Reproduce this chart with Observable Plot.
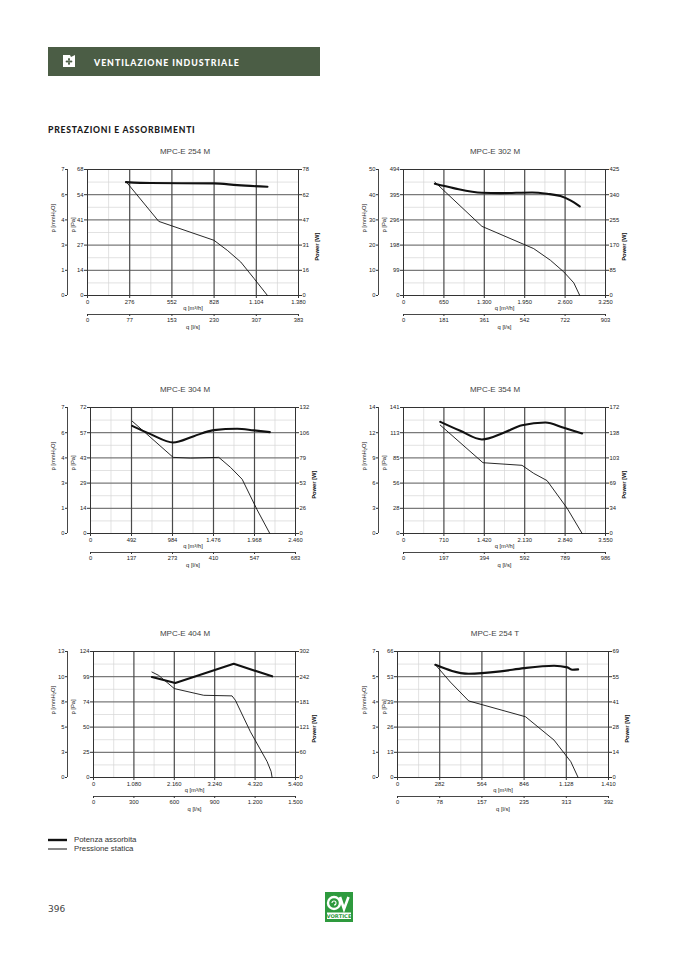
<!DOCTYPE html>
<html><head><meta charset="utf-8">
<script src="https://cdn.jsdelivr.net/npm/d3@7"></script>
<script src="https://cdn.jsdelivr.net/npm/@observablehq/plot@0.6"></script>
<style>
html,body{margin:0;padding:0;background:#fff;}
body{width:677px;height:958px;position:relative;overflow:hidden;font-family:"Liberation Sans",Arial,sans-serif;}
.abs{position:absolute;}
.band{left:48px;top:47px;width:272px;height:29px;background:#4b5d45;}
.band-t{left:94px;top:57px;color:#fff;font-family:Lato,"Open Sans",sans-serif;font-weight:900;font-size:8.8px;letter-spacing:0.95px;}
.sec{left:48px;top:125px;color:#1a1a1a;font-family:Lato,"Open Sans",sans-serif;font-weight:900;font-size:8.6px;letter-spacing:0.75px;}
.ttl{font-size:8px;color:#444;text-align:center;width:290px;}
.leg{font-size:7.8px;color:#333;}
.pg{left:48px;top:904px;font-size:9px;color:#444;font-family:"DejaVu Sans",sans-serif;}
</style></head><body>
<div class="abs band"></div>
<svg class="abs" style="left:62px;top:54px" width="15" height="14" viewBox="0 0 15 14">
  <path d="M1 1 L8 1 L9 3 L13 1 L13 13 L1 13 Z" fill="#fff"/>
  <g fill="#4b5d45" transform="translate(7,7.5)">
    <circle r="0.9"/><ellipse cx="0" cy="-2" rx="1" ry="1.4"/><ellipse cx="0" cy="2" rx="1" ry="1.4"/>
    <ellipse cx="-2" cy="0" rx="1.4" ry="1"/><ellipse cx="2" cy="0" rx="1.4" ry="1"/>
  </g>
</svg>
<div class="abs band-t">VENTILAZIONE INDUSTRIALE</div>
<div class="abs sec">PRESTAZIONI E ASSORBIMENTI</div>
<div id="charts"></div>
<svg class="abs" style="left:46px;top:834px" width="24" height="20">
  <line x1="2" x2="21" y1="6" y2="6" stroke="#111" stroke-width="2.4"/>
  <line x1="2" x2="21" y1="15" y2="15" stroke="#111" stroke-width="1"/>
</svg>
<div class="abs leg" style="left:74px;top:835px">Potenza assorbita</div>
<div class="abs leg" style="left:74px;top:844px">Pressione statica</div>
<div class="abs pg">396</div>
<svg class="abs" style="left:325px;top:892px" width="28" height="30" viewBox="0 0 28 30">
  <rect width="28" height="30" fill="#2e9a3e"/>
  <circle cx="9" cy="11" r="6" fill="none" stroke="#fff" stroke-width="2.4"/>
  <path d="M9 11 m-2 0 a2 2 0 1 1 2 2" fill="none" stroke="#fff" stroke-width="1.1"/>
  <path d="M15 5 L19 17 L23.5 5" fill="none" stroke="#fff" stroke-width="2.6"/>
  <rect x="2" y="20.5" width="24" height="6.5" fill="#fff"/>
  <text x="14" y="25.8" font-size="5.2" text-anchor="middle" font-family="DejaVu Sans" font-weight="bold" fill="#2e9a3e">VORTICE</text>
</svg>
<script>
// ---------- DATA ----------
const titles = ["MPC-E 254 M","MPC-E 302 M","MPC-E 304 M","MPC-E 354 M","MPC-E 404 M","MPC-E 254 T"];

// chart 1 - MPC-E 254 M
const c1_q = [0,276,552,828,1104,1380];
const c1_ls = ["0","77","153","230","307","383"];
const c1_mm = ["0","1","3","4","6","7"];
const c1_pa = [0,14,27,41,54,68];
const c1_w = [0,16,31,47,62,78];
const c1_powQ = [252,411,827,980,1177];
const c1_powW = [70.2,69.6,69.4,68.3,67.3];
const c1_preQ = [252,466,827,914,1002,1089,1177];
const c1_prePa = [61.5,40.0,29.8,24.4,18.1,9.2,0];

// chart 2 - MPC-E 302 M
const c2_q = [0,650,1300,1950,2600,3250];
const c2_ls = ["0","181","361","542","722","903"];
const c2_mm = ["0","10","20","30","40","50"];
const c2_pa = [0,99,198,296,395,494];
const c2_w = [0,85,170,255,340,425];
const c2_powQ = [505,806,1262,1558,2068,2310,2525,2686,2836];
const c2_powW = [376.8,362.2,346.5,345.4,347.6,343.1,335.3,320.7,300.5];
const c2_preQ = [505,1262,1934,2095,2364,2579,2740,2836];
const c2_prePa = [444.5,271.1,200.7,183.8,138.2,92.5,49.5,0];

// chart 3 - MPC-E 304 M
const c3_q = [0,492,984,1476,1968,2460];
const c3_ls = ["0","137","273","410","547","683"];
const c3_mm = ["0","1","3","4","6","7"];
const c3_pa = [0,14,29,43,57,72];
const c3_w = [0,26,53,79,106,132];
const c3_powQ = [500,720,992,1240,1480,1760,1960,2152];
const c3_powW = [112.8,104.1,95.4,102.0,108.3,109.7,108.0,106.2];
const c3_preQ = [500,992,1200,1540,1680,1820,2000,2152];
const c3_prePa = [64.2,43.5,43.1,43.5,37.8,31.0,13.5,0];

// chart 4 - MPC-E 354 M
const c4_q = [0,710,1420,2130,2840,3550];
const c4_ls = ["0","197","394","592","789","986"];
const c4_mm = ["0","3","6","9","12","14"];
const c4_pa = [0,28,56,85,113,141];
const c4_w = [0,34,69,103,138,172];
const c4_powQ = [646,998,1379,1760,2083,2494,2817,3139];
const c4_powW = [152.5,140.2,128.4,137.5,147.9,151.6,144.3,136.6];
const c4_preQ = [646,1397,2083,2288,2523,2875,3139];
const c4_prePa = [121.3,79.2,76.3,67.3,59.2,28.3,0];

// chart 5 - MPC-E 404 M
const c5_q = [0,1080,2160,3240,4320,5400];
const c5_ls = ["0","300","600","900","1.200","1.500"];
const c5_mm = ["0","3","5","8","10","13"];
const c5_pa = [0,25,50,74,99,124];
const c5_w = [0,60,121,181,242,302];
const c5_powQ = [1562,2187,3749,4775];
const c5_powW = [240.8,226.5,272.6,242.4];
const c5_preQ = [1562,1741,2160,2946,3704,3793,4195,4641,4748,4775];
const c5_prePa = [103.8,100.5,87.5,80.9,80.3,76.0,45.0,15.7,5.9,0];

// chart 6 - MPC-E 254 T
const c6_q = [0,282,564,846,1128,1410];
const c6_ls = ["0","78","157","235","313","392"];
const c6_mm = ["0","1","3","4","5","7"];
const c6_pa = [0,13,26,39,53,66];
const c6_w = [0,14,28,41,55,69];
const c6_powQ = [253,476,688,845,1046,1135,1169,1207];
const c6_powW = [61.7,56.8,58.1,59.9,61.2,60.3,59.0,59.2];
const c6_preQ = [253,353,476,856,1046,1158,1207];
const c6_prePa = [59.1,50.0,40.1,31.8,19.6,8.3,0];

// ---------- LAYOUT ----------
const charts = [
  {q:c1_q, ls:c1_ls, mm:c1_mm, pa:c1_pa, w:c1_w, powQ:c1_powQ, powW:c1_powW, preQ:c1_preQ, prePa:c1_prePa},
  {q:c2_q, ls:c2_ls, mm:c2_mm, pa:c2_pa, w:c2_w, powQ:c2_powQ, powW:c2_powW, preQ:c2_preQ, prePa:c2_prePa},
  {q:c3_q, ls:c3_ls, mm:c3_mm, pa:c3_pa, w:c3_w, powQ:c3_powQ, powW:c3_powW, preQ:c3_preQ, prePa:c3_prePa},
  {q:c4_q, ls:c4_ls, mm:c4_mm, pa:c4_pa, w:c4_w, powQ:c4_powQ, powW:c4_powW, preQ:c4_preQ, prePa:c4_prePa},
  {q:c5_q, ls:c5_ls, mm:c5_mm, pa:c5_pa, w:c5_w, powQ:c5_powQ, powW:c5_powW, preQ:c5_preQ, prePa:c5_prePa},
  {q:c6_q, ls:c6_ls, mm:c6_mm, pa:c6_pa, w:c6_w, powQ:c6_powQ, powW:c6_powW, preQ:c6_preQ, prePa:c6_prePa}
];
const marginsL = [47,53,50,53,53,47];
const marginsR = [32,35,35,35,35,32];
const powerCurve = ["monotone-x","monotone-x","monotone-x","monotone-x","linear","monotone-x"];
const rowPlotTop = [169,407,651];
const colLeft = [40,350];
const mmLineX = [67,378];

const fmtIt = d3.formatLocale({decimal:",", thousands:".", grouping:[3], currency:["€",""]}).format(",d");
const host = document.getElementById("charts");

charts.forEach((c, k) => {
  const col = k % 2, row = Math.floor(k / 2);
  const svgLeft = colLeft[col];
  const mL = marginsL[k], mR = marginsR[k];
  const mT = 9, mB = 40, W = 290, H = 175;
  const plotLeft = svgLeft + mL;
  const qMax = c.q[5], paMax = c.pa[5], wMax = c.w[5];
  const yPos = d3.range(6).map(i => paMax * i / 5);
  const yMinor = d3.range(5).map(i => paMax * (i + 0.5) / 5);
  const xMinor = d3.range(5).map(i => qMax * (i + 0.5) / 5);
  const yi = d => Math.round(d / paMax * 5);
  const xi = d => Math.round(d / qMax * 5);
  const power = c.powQ.map((q, i) => ({q, y: c.powW[i] / wMax * paMax}));
  const press = c.preQ.map((q, i) => ({q, y: c.prePa[i]}));
  const dxmm = mmLineX[col] - plotLeft;

  const svg = Plot.plot({
    width: W, height: H,
    marginLeft: mL, marginRight: mR, marginTop: mT, marginBottom: mB,
    x: {domain: [0, qMax]},
    y: {domain: [0, paMax]},
    style: {fontSize: "5.8px", fontFamily: "'Liberation Sans', Arial, sans-serif", color: "#222", background: "transparent", overflow: "visible"},
    marks: [
      Plot.ruleX(xMinor, {stroke: "#d6d6d6", strokeWidth: 0.7}),
      Plot.ruleY(yMinor, {stroke: "#d6d6d6", strokeWidth: 0.7}),
      Plot.ruleY(yPos.slice(1, 5), {stroke: "#7a7a7a", strokeWidth: 1.2}),
      Plot.ruleX(c.q.slice(1, 5), {stroke: "#4a4a4a", strokeWidth: 1.2}),
      Plot.frame({stroke: "#333", strokeWidth: 1}),
      Plot.line(press, {x: "q", y: "y", stroke: "#111", strokeWidth: 0.9}),
      Plot.line(power, {x: "q", y: "y", stroke: "#111", strokeWidth: 2.1, curve: powerCurve[k]}),
      // bottom axis m3/h
      Plot.axisX({ticks: c.q, tickFormat: d => fmtIt(c.q[xi(d)]), tickSize: 3, tickPadding: 1, label: null, stroke: "#333"}),
      Plot.text(["q [m³/h]"], {frameAnchor: "bottom", dy: 14, text: d => d, fill: "#222"}),
      // bottom axis l/s
      Plot.ruleY([0], {dy: 19, stroke: "#333", strokeWidth: 0.9}),
      Plot.axisX({ticks: c.q, tickFormat: d => c.ls[xi(d)], tickSize: 2, tickPadding: 1, dy: 19, label: null, stroke: "#333"}),
      Plot.text(["q [l/s]"], {frameAnchor: "bottom", dy: 33, text: d => d, fill: "#222"}),
      // left Pa axis
      Plot.axisY({ticks: yPos, tickFormat: d => String(c.pa[yi(d)]), tickSize: 3, tickPadding: 1, label: null, stroke: "#333"}),
      Plot.text(["p [Pa]"], {frameAnchor: "left", dx: dxmm + 6, rotate: -90, text: d => d, fill: "#222"}),
      // left mmH2O axis
      Plot.ruleX([0], {dx: dxmm, stroke: "#333", strokeWidth: 0.9}),
      Plot.axisY({ticks: yPos, tickFormat: d => c.mm[yi(d)], tickSize: 2, tickPadding: 1, dx: dxmm, label: null, stroke: "#333"}),
      Plot.text(["p [mmH₂O]"], {frameAnchor: "left", dx: dxmm - 14, rotate: -90, text: d => d, fill: "#222"}),
      // right W axis
      Plot.axisY({anchor: "right", ticks: yPos, tickFormat: d => String(c.w[yi(d)]), tickSize: 3, tickPadding: 1, label: null, stroke: "#333"}),
      Plot.text(["Power [W]"], {frameAnchor: "right", dx: 19, rotate: -90, text: d => d, fill: "#111", fontWeight: "bold"})
    ]
  });
  const box = document.createElement("div");
  box.className = "abs";
  box.style.left = svgLeft + "px";
  box.style.top = (rowPlotTop[row] - mT) + "px";
  box.appendChild(svg);
  host.appendChild(box);

  const t = document.createElement("div");
  t.className = "abs ttl";
  t.style.left = svgLeft + "px";
  t.style.top = (rowPlotTop[row] - 22) + "px";
  t.textContent = titles[k];
  host.appendChild(t);
});
</script>
</body></html>
